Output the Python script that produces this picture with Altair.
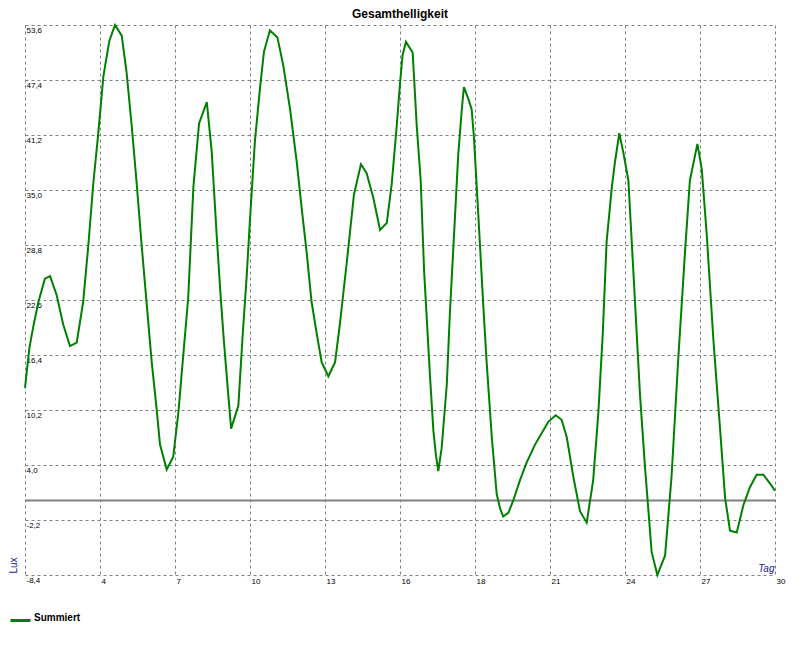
import altair as alt
import pandas as pd

# ---- data ----
days = [1.0, 1.17, 1.32, 1.52, 1.77, 1.97, 2.22, 2.48, 2.74, 3.0,
        3.25, 3.45, 3.64, 3.83, 4.03, 4.26, 4.48, 4.74, 4.93, 5.13,
        5.32, 5.51, 5.71, 5.90, 6.09, 6.22, 6.48, 6.73, 6.93, 7.12,
        7.31, 7.51, 7.73, 8.03, 8.22, 8.41, 8.57, 8.69, 8.86, 8.97,
        9.25, 9.42, 9.57, 9.70, 9.89, 10.09, 10.24, 10.47, 10.76, 10.99,
        11.25, 11.51, 11.70, 11.89, 12.08, 12.28, 12.47, 12.73, 12.99, 13.18,
        13.44, 13.72, 13.99, 14.21, 14.47, 14.73, 14.99, 15.18, 15.37, 15.5,
        15.60, 15.73, 15.99, 16.15, 16.30, 16.43, 16.56, 16.66, 16.79, 16.89,
        16.98, 17.11, 17.31, 17.43, 17.59, 17.75, 17.89, 17.97, 18.14, 18.27,
        18.36, 18.53, 18.72, 18.85, 19.05, 19.24, 19.37, 19.49, 19.69, 19.88,
        20.14, 20.40, 20.72, 21.04, 21.24, 21.52, 21.75, 21.95, 22.20, 22.46,
        22.72, 22.97, 23.17, 23.34, 23.49, 23.69, 23.81, 23.98, 24.13, 24.33,
        24.52, 24.78, 24.97, 25.23, 25.45, 25.75, 26.0, 26.26, 26.52, 26.71,
        27.0, 27.17, 27.36, 27.62, 27.88, 28.07, 28.26, 28.52, 28.78, 29.03,
        29.29, 29.55, 29.81, 30.0]
lux = [12.7, 17.2, 19.6, 22.4, 25.0, 25.3, 23.2, 19.8, 17.4, 17.8,
       22.4, 28.8, 35.7, 41.3, 47.8, 51.8, 53.6, 52.4, 48.2, 42.1,
       35.7, 28.8, 22.0, 15.6, 10.3, 6.3, 3.5, 4.9, 9.9, 16.4,
       22.8, 35.3, 42.5, 44.9, 39.3, 30.0, 22.8, 18.0, 11.9, 8.1,
       10.7, 18.8, 25.2, 31.7, 40.5, 46.6, 50.6, 53.0, 52.2, 49.0,
       44.1, 38.1, 32.9, 28.0, 22.4, 18.8, 15.6, 14.0, 15.6, 20.0,
       26.8, 34.5, 37.9, 36.9, 34.1, 30.5, 31.3, 35.7, 42.1, 47.0,
       50.2, 51.7, 50.5, 42.1, 36.1, 26.0, 19.2, 14.0, 7.9, 5.1,
       3.3, 5.9, 13.1, 21.2, 30.0, 38.9, 44.1, 46.6, 45.3, 44.1,
       40.9, 32.1, 22.0, 15.6, 7.1, 0.7, -0.9, -1.8, -1.4, 0.0,
       2.3, 4.3, 6.3, 7.9, 8.9, 9.6, 9.1, 7.1, 2.7, -1.2,
       -2.5, 2.3, 9.9, 18.8, 29.2, 35.3, 38.1, 41.4, 39.3, 36.1,
       26.0, 11.9, 3.9, -5.8, -8.4, -6.2, 2.7, 16.0, 28.0, 36.1,
       40.2, 37.3, 30.0, 18.0, 7.9, 0.3, -3.4, -3.6, -0.5, 1.5,
       2.9, 2.9, 1.9, 1.1]
series_name = "Summiert"
x_ticks = [1, 3.9, 6.8, 9.7, 12.6, 15.5, 18.4, 21.3, 24.2, 27.1, 30]
y_ticks = [-8.4, -2.2, 4.0, 10.2, 16.4, 22.6, 28.8, 35.0, 41.2, 47.4, 53.6]
zero_level = [0]

FONT = "Liberation Sans"
GRID = "#808080"
BLUE = "#20209a"

df = pd.DataFrame({"Tag": days, "Lux": lux, "Serie": series_name})
df_zero = pd.DataFrame({"Lux": zero_level})

x_enc = alt.X(
    "Tag:Q",
    scale=alt.Scale(domain=[1, 30], nice=False, zero=False),
    axis=alt.Axis(
        values=x_ticks, title="Tag", titleFont=FONT, titleFontSize=10,
        titleFontStyle="italic", titleFontWeight="normal", titleColor=BLUE,
        titleX=749, titleY=-4, titleAlign="right", titleBaseline="alphabetic",
        labelExpr="datum.value < 1.5 ? '' : format(datum.value, '.0f')",
        labelAlign="left", labelBaseline="top", labelPadding=2, labelOffset=1,
        labelFont=FONT, labelFontSize=8, labelColor="black",
        labelFlush=False, labelOverlap=False, labelBound=False,
        ticks=False, tickSize=0, domain=False,
        grid=True, gridColor=GRID, gridDash=[3, 3], gridWidth=1,
    ),
)

y_axis = alt.Axis(
    values=y_ticks, title="Lux", titleFont=FONT, titleFontSize=10,
    titleFontWeight="normal", titleColor=BLUE, titleAngle=270,
    titleX=-12, titleY=540, titleAlign="center", titleBaseline="middle",
    labelExpr="replace(replace(format(datum.value, '.1f'), '.', ','), '\u2212', '-')",
    labelAlign="left", labelBaseline="top", labelPadding=-1, labelOffset=1,
    labelFont=FONT, labelFontSize=8, labelColor="black",
    labelFlush=False, labelOverlap=False, labelBound=False,
    ticks=False, tickSize=0, domain=False,
    grid=True, gridColor=GRID, gridDash=[3, 3], gridWidth=1,
)
y_scale = alt.Scale(domain=[-8.4, 53.6], nice=False, zero=False)

zero_rule = alt.Chart(df_zero).mark_rule(color=GRID, strokeWidth=2).encode(
    y=alt.Y("Lux:Q", scale=y_scale, axis=y_axis)
)

line = alt.Chart(df).mark_line(strokeWidth=2).encode(
    x=x_enc,
    y=alt.Y("Lux:Q", scale=y_scale, axis=y_axis),
    color=alt.Color(
        "Serie:N",
        scale=alt.Scale(range=["#008000"]),
        legend=alt.Legend(
            orient="none", legendX=-16, legendY=584, title=None,
            symbolType="stroke", symbolStrokeWidth=3, symbolSize=400,
            labelFont=FONT, labelFontSize=10, labelFontWeight="bold",
            labelColor="black", labelOffset=2, padding=0,
            labelBaseline="alphabetic",
        ),
    ),
)

chart = (
    alt.layer(zero_rule, line)
    .properties(
        width=750, height=550,
        title=alt.TitleParams(
            "Gesamthelligkeit", font=FONT, fontSize=12, fontWeight="bold",
            color="black", anchor="middle", offset=0,
        ),
        padding={"left": 17, "top": 17, "right": 15, "bottom": 50},
        autosize=alt.AutoSizeParams(type="none"),
        background="white",
    )
    .configure_view(stroke=None)
)

chart.save("out.html", embed_options={"renderer": "svg", "actions": False})
